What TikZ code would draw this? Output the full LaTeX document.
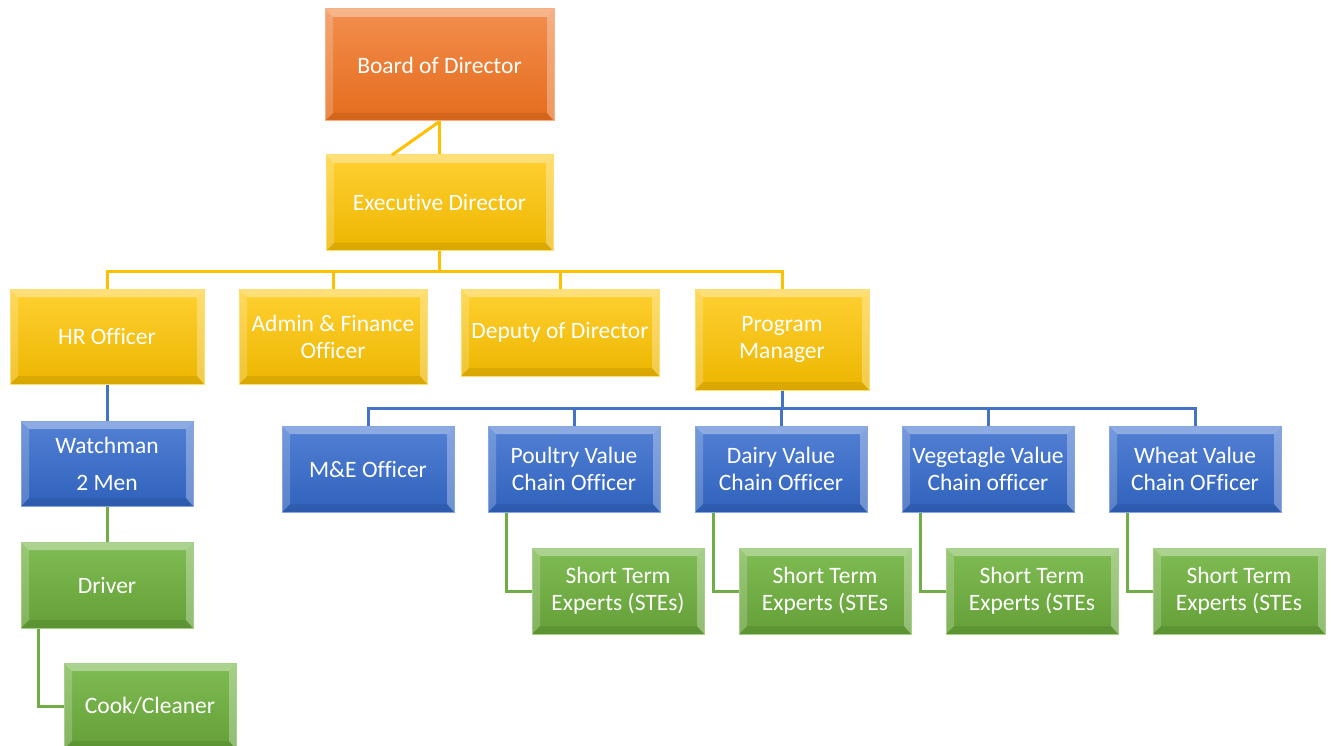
\documentclass[tikz,border=0pt]{standalone}
\usepackage{fontspec}
\setmainfont[Ligatures=NoCommon]{Carlito}

\definecolor{orgtop}{RGB}{242,142,78}
\definecolor{orgbot}{RGB}{229,108,28}
\definecolor{ylwtop}{RGB}{255,208,50}
\definecolor{ylwbot}{RGB}{236,182,0}
\definecolor{blutop}{RGB}{82,128,212}
\definecolor{blubot}{RGB}{48,98,188}
\definecolor{grntop}{RGB}{128,188,84}
\definecolor{grnbot}{RGB}{100,160,55}
\definecolor{ylwline}{RGB}{255,192,0}
\definecolor{bluline}{RGB}{68,114,196}
\definecolor{grnline}{RGB}{112,173,71}

\newcommand{\bevelfx}{%
  \fill[white,opacity=0.35] (path picture bounding box.north west) -- (path picture bounding box.north east)
    -- ([shift={(-7pt,-8pt)}]path picture bounding box.north east) -- ([shift={(8pt,-8pt)}]path picture bounding box.north west) -- cycle;
  \fill[white,opacity=0.2] (path picture bounding box.north west) -- ([shift={(8pt,-8pt)}]path picture bounding box.north west)
    -- ([shift={(8pt,8pt)}]path picture bounding box.south west) -- (path picture bounding box.south west) -- cycle;
  \fill[white,opacity=0.3] (path picture bounding box.north east) -- ([shift={(-7pt,-8pt)}]path picture bounding box.north east)
    -- ([shift={(-7pt,8pt)}]path picture bounding box.south east) -- (path picture bounding box.south east) -- cycle;
  \fill[black,opacity=0.08] (path picture bounding box.south west) -- ([shift={(8pt,8pt)}]path picture bounding box.south west)
    -- ([shift={(-7pt,8pt)}]path picture bounding box.south east) -- (path picture bounding box.south east) -- cycle;
}

\tikzset{
  unit/.style={rectangle, inner sep=2pt, align=center, text=white,
    font=\fontsize{23.5}{27}\selectfont, line width=1, path picture={\bevelfx}},
  orgbox/.style={unit, top color=orgtop, bottom color=orgbot, draw=orgtop!70!white},
  ylwbox/.style={unit, top color=ylwtop, bottom color=ylwbot, draw=ylwtop!70!white},
  blubox/.style={unit, top color=blutop, bottom color=blubot, draw=blutop!70!white,
    minimum width=172, minimum height=86},
  grnbox/.style={unit, top color=grntop, bottom color=grnbot, draw=grntop!70!white,
    minimum width=172, minimum height=86},
  ylwlink/.style={draw=ylwline, line width=3},
  blulink/.style={draw=bluline, line width=3},
  grnlink/.style={draw=grnline, line width=3}
}

\begin{document}
\begin{tikzpicture}[x=1pt, y=-1pt]
\useasboundingbox (0,0) rectangle (1331,746);

% Vertice
\node[orgbox, minimum width=229, minimum height=112] (board) at (439.5,65) {Board of Director};
\node[ylwbox, minimum width=227, minimum height=96] (exec) at (439.5,203) {Executive Director};
\coordinate (diagend) at (392,155);

% Secondo livello
\node[ylwbox, minimum width=194, minimum height=95] (hr) at (107,336.5) {HR Officer};
\node[ylwbox, minimum width=188, minimum height=95] (admin) at (333,336.5) {Admin \& Finance\\Officer};
\node[ylwbox, minimum width=198, minimum height=87] (deputy) at (560,332.5) {Deputy of Director};
\node[ylwbox, minimum width=174, minimum height=101] (pm) at (782,339.5) {Program\\Manager};

% Ramo HR
\node[blubox, minimum height=85] (watch) at (107,463.5) {Watchman\\[10pt]2 Men};
\node[grnbox] (driver) at (107,585) {Driver};
\node[grnbox] (cook) at (150,706) {Cook/Cleaner};

% Ramo programma
\node[blubox] (me) at (368,469) {M\&E Officer};
\node[blubox] (poultry) at (574,469) {Poultry Value\\Chain Officer};
\node[blubox] (dairy) at (781,469) {Dairy Value\\Chain Officer};
\node[blubox] (veg) at (988,469) {Vegetagle Value\\Chain officer};
\node[blubox] (wheat) at (1195,469) {Wheat Value\\Chain OFficer};

% Esperti
\node[grnbox] (poultryste) at (618,591) {Short Term\\Experts (STEs)};
\node[grnbox] (dairyste) at (825,591) {Short Term\\Experts (STEs};
\node[grnbox] (vegste) at (1032,591) {Short Term\\Experts (STEs};
\node[grnbox] (wheatste) at (1239,591) {Short Term\\Experts (STEs};

% Connessioni
\draw[ylwlink] (board.south) -- (exec.north);
\draw[ylwlink] (board.south) -- (diagend);
\foreach \c in {hr,admin,deputy,pm}
  \draw[ylwlink] (exec.south) -- ++(0,20) -| (\c.north);
\foreach \c in {me,poultry,dairy,veg,wheat}
  \draw[blulink] (pm.south) -- ++(0,18) -| (\c.north);
\foreach \c in {poultry,dairy,veg,wheat}
  \draw[grnlink] ([xshift=19pt]\c.south west) |- (\c ste.west);
\draw[blulink] (hr.south) -- (watch.north);
\draw[grnlink] (watch.south) -- (driver.north);
\draw[grnlink] ([xshift=18pt]driver.south west) |- (cook.west);
\end{tikzpicture}
\end{document}
